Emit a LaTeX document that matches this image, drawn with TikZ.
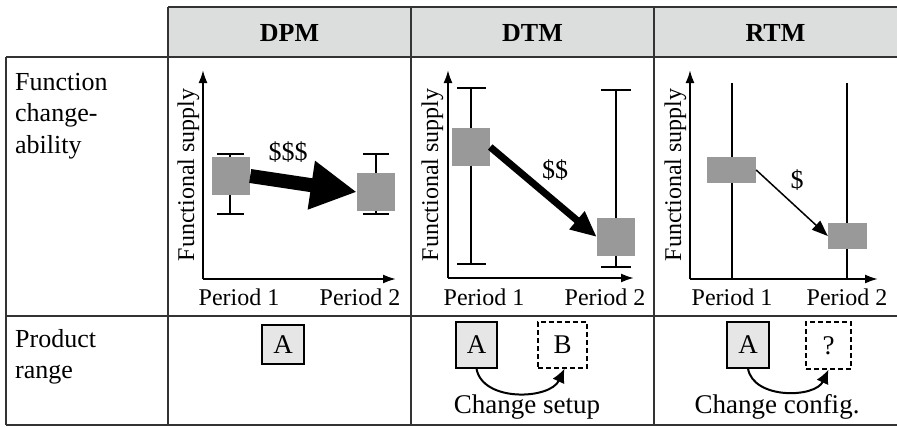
\documentclass[tikz,border=0pt]{standalone}
\usepackage{fontspec}
\setmainfont{Liberation Serif}
\usetikzlibrary{arrows.meta,positioning}
\definecolor{headgray}{HTML}{DCDDDD}
\definecolor{supplygray}{HTML}{999999}
\definecolor{prodgray}{HTML}{E6E6E6}
\definecolor{rule}{HTML}{333333}

\begin{document}
\begin{tikzpicture}[x=1pt, y=-1pt,
      grid/.style={draw=rule, line width=1.2pt},
      head/.style={font=\fontsize{26}{30}\selectfont\bfseries},
      rowlabel/.style={font=\fontsize{26}{31.5}\selectfont, align=left, inner sep=0pt, anchor=north west},
      axis/.style={line width=2pt, -{Latex[length=13pt,width=9pt]}},
      ebar/.style={line width=1.5pt},
      supply/.style={fill=supplygray, inner sep=0pt, minimum width=38pt, minimum height=38pt},
      ylab/.style={font=\fontsize{24}{28}\selectfont, rotate=90, anchor=base, inner sep=0pt},
      period/.style={font=\fontsize{24}{28}\selectfont, anchor=base, inner sep=0pt},
      cost/.style={font=\fontsize{26}{30}\selectfont},
      prod/.style={draw, line width=1.2pt, fill=prodgray, inner sep=0pt, font=\fontsize{27}{30}\selectfont},
      newprod/.style={draw, line width=1.2pt, dash pattern=on 5pt off 3pt, inner sep=0pt, font=\fontsize{27}{30}\selectfont},
      change/.style={line width=2pt, -{Latex[length=14pt,width=13pt]}},
      note/.style={font=\fontsize{27}{30}\selectfont, anchor=base, inner sep=0pt}
    ]
      \useasboundingbox (0,0) rectangle (897,426);

      % table
      \fill[headgray] (168,7) rectangle (897,57);
      \draw[grid] (168,7) -- (897,7);
      \draw[grid] (6,57) -- (897,57);
      \draw[grid] (6,316) -- (897,316);
      \draw[grid] (6,425) -- (897,425);
      \draw[grid] (6,57) -- (6,425);
      \draw[grid] (168,7) -- (168,425);
      \draw[grid] (411,7) -- (411,425);
      \draw[grid] (654,7) -- (654,425);

      \node[head] (hdpm) at (289.5,33) {DPM};
      \node[head] (hdtm) at (532.5,33) {DTM};
      \node[head] (hrtm) at (775.5,33) {RTM};

      \node[rowlabel] (rfun) at (15,73) {Function\\change-\\ability};
      \node[rowlabel] (rprod) at (15,329) {Product\\range};

      % DPM chart
      \coordinate (dpmO) at (203,279);
      \coordinate (dpmY) at (203,70);
      \coordinate (dpmX) at (396,279);
      \draw[axis] (dpmO) -- (dpmY);
      \draw[axis] (dpmO) -- (dpmX);
      \node[ylab] (dpmL) at (194,175) {Functional supply};
      \draw[ebar] (230,154) -- (230,214) (217,154) -- (244,154) (217,214) -- (244,214);
      \draw[ebar] (376,154) -- (376,214) (363,154) -- (389,154) (363,214) -- (389,214);
      \node[supply] (dpmS1) at (231,176) {};
      \node[supply] (dpmS2) at (376,192) {};
      \draw[line width=14pt, -{Triangle[length=46pt,width=46pt]}] (dpmS1.east) -- (dpmS2.west);
      \node[cost] (dpmC) at (288,152) {\$\$\$};
      \node[period] (dpmP1) at (239,305) {Period 1};
      \node[period] (dpmP2) at (360,305) {Period 2};

      % DTM chart
      \coordinate (dtmO) at (448,278);
      \coordinate (dtmY) at (448,70);
      \coordinate (dtmX) at (634,278);
      \draw[axis] (dtmO) -- (dtmY);
      \draw[axis] (dtmO) -- (dtmX);
      \node[ylab] (dtmL) at (438,175) {Functional supply};
      \draw[ebar] (471,88) -- (471,264) (457,88) -- (486,88) (457,264) -- (486,264);
      \draw[ebar] (616,90) -- (616,267) (601,90) -- (631,90) (601,267) -- (631,267);
      \node[supply] (dtmS1) at (471,147) {};
      \node[supply] (dtmS2) at (616,237) {};
      \draw[line width=7pt, -{Triangle[length=26pt,width=22pt]}] (dtmS1.east) -- (dtmS2.west);
      \node[cost] (dtmC) at (555,170) {\$\$};
      \node[period] (dtmP1) at (484,305) {Period 1};
      \node[period] (dtmP2) at (605,305) {Period 2};

      % RTM chart
      \coordinate (rtmO) at (690,279);
      \coordinate (rtmY) at (690,70);
      \coordinate (rtmX) at (878,279);
      \draw[axis] (rtmO) -- (rtmY);
      \draw[axis] (rtmO) -- (rtmX);
      \node[ylab] (rtmL) at (681,175) {Functional supply};
      \draw[ebar] (732,83) -- (732,279);
      \draw[ebar] (847,83) -- (847,279);
      \node[supply, minimum width=49pt, minimum height=26pt] (rtmS1) at (731.5,170) {};
      \node[supply, minimum width=39pt, minimum height=26pt] (rtmS2) at (847.5,236) {};
      \draw[line width=1.5pt, -{Triangle[length=16pt,width=12pt]}] (rtmS1.east) -- (rtmS2.west);
      \node[cost] (rtmC) at (797,180) {\$};
      \node[period] (rtmP1) at (732,305) {Period 1};
      \node[period] (rtmP2) at (847,305) {Period 2};

      % product range
      \node[prod, minimum width=42pt, minimum height=39pt] (dpmA) at (283,344.5) {A};

      \node[prod, minimum width=41pt, minimum height=46pt] (dtmA) at (476.5,345) {A};
      \node[newprod, minimum width=49pt, minimum height=46pt] (dtmB) at (562.5,345) {B};
      \draw[change] (dtmA.south) to[out=-80, in=-115] ([xshift=2pt]dtmB.south);
      \node[note] (dtmN) at (527,413) {Change setup};

      \node[prod, minimum width=42pt, minimum height=46pt] (rtmA) at (748,345) {A};
      \node[newprod, minimum width=45pt, minimum height=47pt] (rtmQ) at (828.5,345.5) {?};
      \draw[change] (rtmA.south) to[out=-80, in=-115] (rtmQ.south);
      \node[note] (rtmN) at (777,413) {Change config.};
    \end{tikzpicture}
\end{document}
